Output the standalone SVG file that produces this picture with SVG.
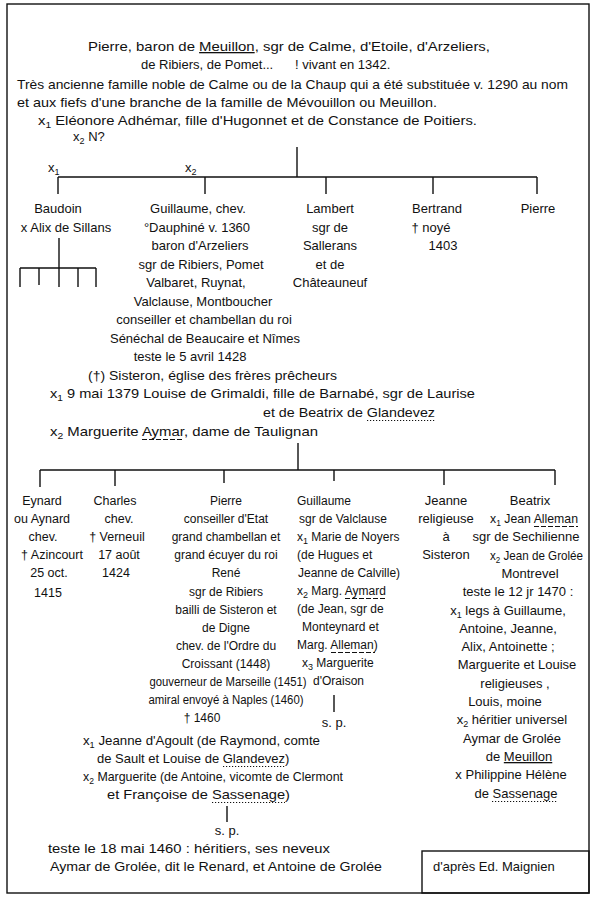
<svg xmlns="http://www.w3.org/2000/svg" width="595" height="900" viewBox="0 0 595 900">
<style>
text{font-family:"Liberation Sans","DejaVu Sans",sans-serif;font-size:13px;fill:#111}
.m{text-anchor:middle}
.s{font-size:9px}
.ln{stroke:#111;stroke-width:1.4;fill:none}
.u{text-decoration:underline}
.dot{stroke:#111;stroke-width:1;stroke-dasharray:1.2,1.8;fill:none}
.dsh{stroke:#111;stroke-width:1;stroke-dasharray:5,2;fill:none}
.f12 text{font-size:12px}
.f125 text{font-size:12.5px}
</style>
<rect x="0" y="0" width="595" height="900" fill="#fff"/>
<rect x="7" y="4" width="582" height="889" class="ln" stroke-width="1.6"/>

<g id="pierre-root">
<text x="88" y="51" textLength="402" lengthAdjust="spacingAndGlyphs">Pierre, baron de <tspan class="u">Meuillon</tspan>, sgr de Calme, d'Etoile, d'Arzeliers,</text>
<text x="141" y="69">de Ribiers, de Pomet...</text>
<text x="295" y="69">! vivant en 1342.</text>
<text x="17" y="89" textLength="551" lengthAdjust="spacingAndGlyphs">Très ancienne famille noble de Calme ou de la Chaup qui a été substituée v. 1290 au nom</text>
<text x="17" y="107" textLength="420" lengthAdjust="spacingAndGlyphs">et aux fiefs d'une branche de la famille de Mévouillon ou Meuillon.</text>
<text x="38" y="125" textLength="439" lengthAdjust="spacingAndGlyphs">x<tspan class="s" dy="3">1</tspan><tspan dy="-3"> Eléonore Adhémar, fille d'Hugonnet et de Constance de Poitiers.</tspan></text>
<text x="73" y="141">x<tspan class="s" dy="3">2</tspan><tspan dy="-3"> N?</tspan></text>
</g>

<g id="connectors">
<path class="ln" d="M297,147V177M58,177H537M58,177V194M205,177V194M326,177V194M433,177V194M537,177V194"/>
<path class="ln" d="M59,238V268M20,268H96M20,268V287M39,268V285M59,268V287M78,268V287M96,268V287"/>
<path class="ln" d="M298,443V470M40,470H555M40,470V487M115,470V486M224,470V483M334,470V481M444,470V485M555,470V485"/>
<path class="ln" d="M334,695V712M227,806V822"/>
</g>

<g id="marriage-labels">
<text x="48" y="172">x<tspan class="s" dy="3">1</tspan></text>
<text x="185" y="172">x<tspan class="s" dy="3">2</tspan></text>
</g>

<g id="baudoin">
<text class="m" x="58" y="213">Baudoin</text>
<text class="m" x="66" y="232">x Alix de Sillans</text>
</g>

<g id="guillaume">
<text class="m" x="198" y="213">Guillaume, chev.</text>
<text class="m" x="197" y="232">°Dauphiné v. 1360</text>
<text class="m" x="200" y="250">baron d'Arzeliers</text>
<text class="m" x="201" y="269">sgr de Ribiers, Pomet</text>
<text class="m" x="196" y="287">Valbaret, Ruynat,</text>
<text class="m" x="203" y="306">Valclause, Montboucher</text>
<text class="m" x="204" y="324">conseiller et chambellan du roi</text>
<text class="m" x="205" y="343">Sénéchal de Beaucaire et Nîmes</text>
<text class="m" x="190" y="361">teste le 5 avril 1428</text>
<text x="88" y="380" textLength="249" lengthAdjust="spacingAndGlyphs">(†) Sisteron, église des frères prêcheurs</text>
<text x="50" y="398" textLength="425" lengthAdjust="spacingAndGlyphs">x<tspan class="s" dy="3">1</tspan><tspan dy="-3"> 9 mai 1379 Louise de Grimaldi, fille de Barnabé, sgr de Laurise</tspan></text>
<text x="263" y="417" textLength="172" lengthAdjust="spacingAndGlyphs">et de Beatrix de Glandevez</text>
<path class="dot" d="M367,420.5H435"/>
<text x="50" y="436" textLength="268" lengthAdjust="spacingAndGlyphs">x<tspan class="s" dy="3">2</tspan><tspan dy="-3"> Marguerite Aymar, dame de Taulignan</tspan></text>
<path class="dsh" d="M142,439.5H184"/>
</g>

<g id="lambert">
<text class="m" x="330" y="213">Lambert</text>
<text class="m" x="330" y="232">sgr de</text>
<text class="m" x="330" y="250">Sallerans</text>
<text class="m" x="330" y="269">et de</text>
<text class="m" x="330" y="287">Châteauneuf</text>
</g>

<g id="bertrand">
<text class="m" x="437" y="213">Bertrand</text>
<text class="m" x="431" y="232">† noyé</text>
<text class="m" x="443" y="250">1403</text>
</g>

<g id="pierre">
<text class="m" x="538" y="213">Pierre</text>
</g>

<g id="eynard" class="f125">
<text class="m" x="42" y="505">Eynard</text>
<text class="m" x="42" y="523">ou Aynard</text>
<text class="m" x="43" y="541">chev.</text>
<text class="m" x="52" y="559">† Azincourt</text>
<text class="m" x="49" y="577">25 oct.</text>
<text class="m" x="48" y="597">1415</text>
</g>

<g id="charles" class="f125">
<text class="m" x="115" y="505">Charles</text>
<text class="m" x="119" y="523">chev.</text>
<text class="m" x="117" y="541">† Verneuil</text>
<text class="m" x="119" y="559">17 août</text>
<text class="m" x="116" y="577">1424</text>
</g>

<g id="pierre-2">
<g class="f12">
<text class="m" x="226" y="505">Pierre</text>
<text class="m" x="226" y="523">conseiller d'Etat</text>
<text class="m" x="226" y="541">grand chambellan et</text>
<text class="m" x="226" y="559">grand écuyer du roi</text>
<text class="m" x="226" y="577">René</text>
<text class="m" x="226" y="595.5">sgr de Ribiers</text>
<text class="m" x="226" y="613.5">bailli de Sisteron et</text>
<text class="m" x="226" y="631.5">de Digne</text>
<text class="m" x="226" y="649.5">chev. de l'Ordre du</text>
<text class="m" x="226" y="668">Croissant (1448)</text>
<text class="m" x="228" y="686" textLength="157" lengthAdjust="spacingAndGlyphs">gouverneur de Marseille (1451)</text>
<text class="m" x="226" y="704" textLength="155" lengthAdjust="spacingAndGlyphs">amiral envoyé à Naples (1460)</text>
<text class="m" x="202" y="722">† 1460</text>
</g>
<text x="83" y="745" textLength="237" lengthAdjust="spacingAndGlyphs">x<tspan class="s" dy="3">1</tspan><tspan dy="-3"> Jeanne d'Agoult (de Raymond, comte</tspan></text>
<text x="97" y="763">de Sault et Louise de Glandevez)</text>
<path class="dot" d="M223,766.5H285"/>
<text x="83" y="781" textLength="260" lengthAdjust="spacingAndGlyphs">x<tspan class="s" dy="3">2</tspan><tspan dy="-3"> Marguerite (de Antoine, vicomte de Clermont</tspan></text>
<text x="107" y="799" textLength="183" lengthAdjust="spacingAndGlyphs">et Françoise de Sassenage)</text>
<path class="dot" d="M212,802.5H285"/>
<text class="m" x="227" y="835">s. p.</text>
<text x="48" y="853" textLength="282" lengthAdjust="spacingAndGlyphs">teste le 18 mai 1460 : héritiers, ses neveux</text>
<text x="50" y="871" textLength="332" lengthAdjust="spacingAndGlyphs">Aymar de Grolée, dit le Renard, et Antoine de Grolée</text>
</g>

<g id="guillaume-2">
<g class="f12">
<text x="297" y="505">Guillaume</text>
<text x="299" y="523">sgr de Valclause</text>
<text x="297" y="541">x<tspan class="s" dy="3">1</tspan><tspan dy="-3"> Marie de Noyers</tspan></text>
<text x="297" y="559">(de Hugues et</text>
<text x="298" y="577">Jeanne de Calville)</text>
<text x="297" y="595">x<tspan class="s" dy="3">2</tspan><tspan dy="-3"> Marg. Aymard</tspan></text>
<text x="297" y="613">(de Jean, sgr de</text>
<text x="302" y="631">Monteynard et</text>
<text x="297" y="649">Marg. Alleman)</text>
<text x="302" y="667">x<tspan class="s" dy="3">3</tspan><tspan dy="-3"> Marguerite</tspan></text>
<text x="313" y="685">d'Oraison</text>
</g>
<path class="dsh" d="M345,598.5H387M331,652.5H375"/>
<text class="m" x="334" y="727">s. p.</text>
</g>

<g id="jeanne">
<text class="m" x="446" y="505">Jeanne</text>
<text class="m" x="446" y="523">religieuse</text>
<text class="m" x="446" y="541">à</text>
<text class="m" x="446" y="559">Sisteron</text>
</g>

<g id="beatrix">
<text class="m" x="530" y="505">Beatrix</text>
<text x="490" y="523" textLength="88" lengthAdjust="spacingAndGlyphs">x<tspan class="s" dy="3">1</tspan><tspan dy="-3"> Jean Alleman</tspan></text>
<path class="dsh" d="M534,526.5H578"/>
<text class="m" x="526" y="541">sgr de Sechilienne</text>
<text x="490" y="560" textLength="93" lengthAdjust="spacingAndGlyphs">x<tspan class="s" dy="3">2</tspan><tspan dy="-3"> Jean de Grolée</tspan></text>
<text class="m" x="530" y="578">Montrevel</text>
<text class="m" x="518" y="596">teste le 12 jr 1470 :</text>
<text class="m" x="508" y="615">x<tspan class="s" dy="3">1</tspan><tspan dy="-3"> legs à Guillaume,</tspan></text>
<text class="m" x="508" y="633">Antoine, Jeanne,</text>
<text class="m" x="508" y="651">Alix, Antoinette ;</text>
<text class="m" x="517" y="669">Marguerite et Louise</text>
<text class="m" x="515" y="688">religieuses ,</text>
<text class="m" x="505" y="706">Louis, moine</text>
<text class="m" x="512" y="724">x<tspan class="s" dy="3">2</tspan><tspan dy="-3"> héritier universel</tspan></text>
<text class="m" x="512" y="743">Aymar de Grolée</text>
<text class="m" x="519" y="761">de <tspan class="u">Meuillon</tspan></text>
<text class="m" x="511" y="779">x Philippine Hélène</text>
<text class="m" x="516" y="798">de Sassenage</text>
<path class="dot" d="M492,801.5H558"/>
</g>

<g id="source">
<rect x="422" y="851" width="167" height="42" class="ln"/>
<text x="433" y="871">d'après Ed. Maignien</text>
</g>
</svg>
